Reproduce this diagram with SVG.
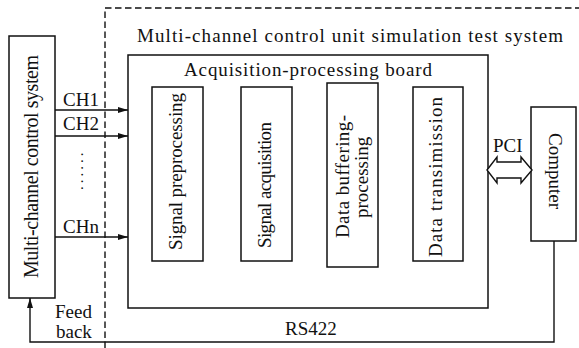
<svg xmlns="http://www.w3.org/2000/svg" width="579" height="348" viewBox="0 0 579 348" font-family="'Liberation Serif', 'Times New Roman', serif">
<style>
text{font-family:'Liberation Serif','Times New Roman',serif;font-size:19px;fill:#111}
.box{fill:none;stroke:#111;stroke-width:1.5}
.ln{fill:none;stroke:#111;stroke-width:1.4}
.dash{fill:none;stroke:#111;stroke-width:1.4;stroke-dasharray:6.5 3.5}
</style>
<defs>
<marker id="ah" viewBox="0 0 10 6" refX="10" refY="3" markerWidth="10" markerHeight="6" markerUnits="userSpaceOnUse" orient="auto">
<path d="M0,0 L10,3 L0,6 Z" fill="#111"/>
</marker>
</defs>
<rect width="579" height="348" fill="#fff"/>
<g id="test-system-boundary">
<path class="dash" d="M105,348 V8 H579"/>
<text x="137" y="42" textLength="426" lengthAdjust="spacing">Multi-channel control unit simulation test system</text>
</g>
<g id="control-system">
<rect class="box" x="9" y="36" width="46" height="262"/>
<text transform="translate(38,278) rotate(-90)" style="font-size:20px" textLength="223" lengthAdjust="spacing">Multi-channel control system</text>
</g>
<g id="acq-board">
<rect class="box" x="128" y="55" width="360" height="253"/>
<text x="184" y="76" textLength="248" lengthAdjust="spacing">Acquisition-processing board</text>
</g>
<g id="signal-preprocessing">
<rect class="box" x="152" y="87" width="51" height="174"/>
<text transform="translate(182,250) rotate(-90)" textLength="157" lengthAdjust="spacing">Signal preprocessing</text>
</g>
<g id="signal-acquisition">
<rect class="box" x="241" y="87" width="51" height="174"/>
<text transform="translate(271,248) rotate(-90)" textLength="126" lengthAdjust="spacing">Signal acquisition</text>
</g>
<g id="data-buffering">
<rect class="box" x="327" y="83" width="51" height="184"/>
<text transform="translate(349,238) rotate(-90)" textLength="123" lengthAdjust="spacing">Data buffering-</text>
<text transform="translate(368,218) rotate(-90)">processing</text>
</g>
<g id="data-transmission">
<rect class="box" x="413" y="87" width="50" height="174"/>
<text transform="translate(442,257) rotate(-90)" textLength="160" lengthAdjust="spacing">Data transimission</text>
</g>
<g id="computer">
<rect class="box" x="531" y="107" width="45" height="134"/>
<text transform="translate(549,133) rotate(90)">Computer</text>
</g>
<g id="connectors">
<path class="ln" d="M55,110 H128" marker-end="url(#ah)"/>
<path class="ln" d="M55,136 H128" marker-end="url(#ah)"/>
<path class="ln" d="M55,237 H128" marker-end="url(#ah)"/>
<text x="63" y="106">CH1</text>
<text x="63" y="130">CH2</text>
<text x="63" y="233">CHn</text>
<text transform="translate(83,190) rotate(-90)" style="font-size:15px;letter-spacing:3px">......</text>
<polygon class="ln" style="fill:#fff" points="487,170 497,157 497,162 521,162 521,157 532,170 521,183 521,178 497,178 497,183"/>
<text x="493" y="152">PCI</text>
<path class="ln" d="M554,241 V342 H30 V298" marker-end="url(#ah)"/>
<text x="55" y="318">Feed</text>
<text x="56" y="338">back</text>
<text x="285" y="335">RS422</text>
</g>
</svg>
